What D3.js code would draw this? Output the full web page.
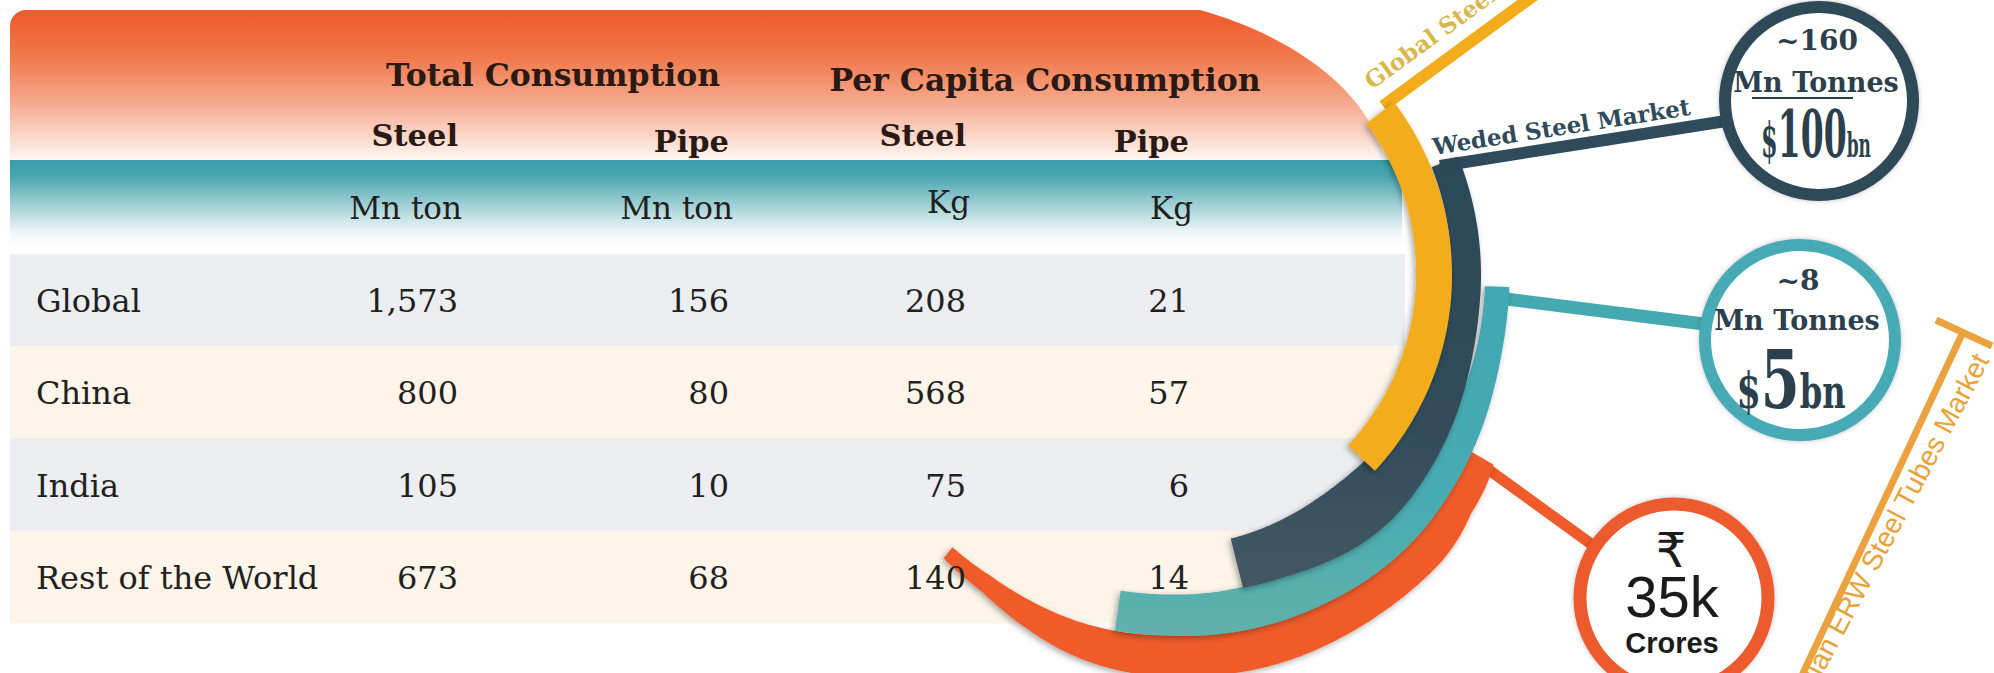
<!DOCTYPE html>
<html>
<head>
<meta charset="utf-8" />
<title>Steel and Pipe Consumption</title>
<script src="https://cdn.jsdelivr.net/npm/d3@7"></script>
<style>
body { margin: 0; background: #fff; }
svg { display: block; }
</style>
</head>
<body>
<div id="chart"></div>
<script>
// table data
const regions = ["Global", "China", "India", "Rest of the World"];
const steelTotal = [1573, 800, 105, 673];
const pipeTotal = [156, 80, 10, 68];
const steelPerCapita = [208, 568, 75, 140];
const pipePerCapita = [21, 57, 6, 14];
const groupHeaders = ["Total Consumption", "Per Capita Consumption"];
const columnHeaders = ["Steel", "Pipe", "Steel", "Pipe"];
const columnUnits = ["Mn ton", "Mn ton", "Kg", "Kg"];

// market callouts
const marketNames = ["Global Steel Market", "Weded Steel Market", "Indian ERW Steel Tubes Market"];
const weldedVolume = ["~160", "Mn Tonnes"];
const weldedValue = ["$", "100", "bn"];
const pipeVolume = ["~8", "Mn Tonnes"];
const pipeValue = ["$", "5", "bn"];
const indiaValue = ["\u20B9", "35k", "Crores"];

const W = 1994, H = 673;
const svg = d3.select("#chart").append("svg")
	.attr("width", W)
	.attr("height", H);
const defs = svg.append("defs");

function gradient(id, stops, y1, y2){
	const g = defs.append("linearGradient").attr("id", id)
		.attr("x1", 0).attr("y1", 0).attr("x2", 0).attr("y2", 1);
	if (y1 !== undefined) {
		g.attr("gradientUnits", "userSpaceOnUse").attr("y1", y1).attr("y2", y2);
	}
	stops.forEach(s => g.append("stop").attr("offset", s[0]).attr("stop-color", s[1]));
}
gradient("hdr", [[0, "#ee5a2c"], [0.3, "#f17648"], [0.62, "#f6aa8f"], [0.85, "#fbd9cc"], [1, "#fff6f2"]]);
gradient("tealband", [[0, "#3a9da8"], [0.18, "#47a5af"], [0.55, "#a6d3d8"], [0.85, "#eef7f8"], [1, "#ffffff"]]);
// these two are used inside the ribbon group, which is shifted down by 275
gradient("tealarc", [[0, "#41a8b3"], [0.6, "#48abb2"], [1, "#60b1aa"]], 5, 365);
gradient("darkarc", [[0, "#2c4959"], [0.6, "#304b5a"], [1, "#435863"]], -115, 315);

const shadow = defs.append("filter").attr("id", "shadow")
	.attr("x", "-20%").attr("y", "-20%").attr("width", "140%").attr("height", "140%");
shadow.append("feDropShadow").attr("dx", -2).attr("dy", 2)
	.attr("stdDeviation", 3).attr("flood-color", "#000").attr("flood-opacity", 0.35);
const glow = defs.append("filter").attr("id", "glow")
	.attr("x", "-20%").attr("y", "-20%").attr("width", "140%").attr("height", "140%");
glow.append("feDropShadow").attr("dx", 0).attr("dy", 0)
	.attr("stdDeviation", 2.5).attr("flood-color", "#000").attr("flood-opacity", 0.25);

// ---- header ----
const hp = d3.path();
hp.moveTo(10, 160);
hp.lineTo(10, 26);
hp.arcTo(10, 10, 26, 10, 16);
hp.lineTo(1200, 10);
hp.bezierCurveTo(1290, 35, 1370, 90, 1384, 160);
hp.closePath();
svg.append("path").attr("d", hp.toString()).attr("fill", "url(#hdr)");

svg.append("rect")
	.attr("x", 10).attr("y", 160).attr("width", 1392).attr("height", 85)
	.attr("fill", "url(#tealband)");

// ---- rows ----
const y = d3.scaleBand().domain(regions).range([254, 623]);
const colX = d3.scaleOrdinal().domain(d3.range(4)).range([458, 729, 966, 1189]);
const groupX = d3.scaleOrdinal().domain(groupHeaders).range([553, 1045]);
const fmt = d3.format(",");
const columns = [steelTotal, pipeTotal, steelPerCapita, pipePerCapita];

svg.append("g").selectAll("rect")
	.data(regions)
	.join("rect")
	.attr("x", 10)
	.attr("y", d => y(d))
	.attr("width", (d, i) => i == 3 ? 1290 : 1395) // last row tucks under the ribbons
	.attr("height", y.bandwidth() + 0.5)
	.attr("fill", (d, i) => i % 2 ? "#fdf5e9" : "#eceef2");

const serif = "'DejaVu Serif', serif";

svg.append("g").selectAll("text")
	.data(groupHeaders)
	.join("text")
	.attr("x", d => groupX(d))
	.attr("y", (d, i) => i ? 91 : 86)
	.attr("text-anchor", "middle")
	.attr("font-family", serif).attr("font-weight", "bold").attr("font-size", 31.5)
	.attr("fill", "#2b1a14")
	.text(d => d);

svg.append("g").selectAll("text")
	.data(columnHeaders)
	.join("text")
	.attr("x", (d, i) => colX(i))
	.attr("y", (d, i) => i % 2 ? 152 : 146)
	.attr("text-anchor", "end")
	.attr("font-family", serif).attr("font-weight", "bold").attr("font-size", 30.5)
	.attr("fill", "#2b1a14")
	.text(d => d);

svg.append("g").selectAll("text")
	.data(columnUnits)
	.join("text")
	.attr("x", (d, i) => colX(i) + 4)
	.attr("y", (d, i) => i == 2 ? 213 : 219)
	.attr("text-anchor", "end")
	.attr("font-family", serif).attr("font-size", 31)
	.attr("fill", "#231f20")
	.text(d => d);

// ---- connectors ----
const deg = Math.PI / 180;
const conn = svg.append("g").attr("fill", "none");
conn.append("line").attr("x1", 1383).attr("y1", 106).attr("x2", 1548).attr("y2", -15)
	.attr("stroke", "#f3ac1b").attr("stroke-width", 12);
conn.append("line").attr("x1", 1440).attr("y1", 166).attr("x2", 1726).attr("y2", 121)
	.attr("stroke", "#2f4b5b").attr("stroke-width", 12);
conn.append("line").attr("x1", 1490).attr("y1", 297).attr("x2", 1704).attr("y2", 324)
	.attr("stroke", "#45a9b1").attr("stroke-width", 13);
conn.append("line").attr("x1", 1478).attr("y1", 462).attr("x2", 1594).attr("y2", 546)
	.attr("stroke", "#ef5b2b").attr("stroke-width", 11);

// ---- arc ribbons (angle in degrees, radii read at those angles) ----
const ribbons = [
	{color: "#ef5b2b", a: [120, 130, 165, 190, 218], ri: [352, 356, 360, 360, 343], ro: [368, 397, 406, 398, 353]},
	{color: "url(#tealarc)", a: [92, 102, 140, 166, 188], ri: [320, 320, 320, 322, 318], ro: [345, 344, 366, 365, 358]},
	{color: "url(#darkarc)", a: [68, 102, 140, 166], ri: [288, 285, 270, 272], ro: [316, 316, 336, 320]},
	{color: "#f3ac1b", a: [53, 133], ri: [252, 250], ro: [287, 287]}
];
const area = d3.areaRadial()
	.angle(d => d.a * deg)
	.innerRadius(d => d.ri)
	.outerRadius(d => d.ro);

// moving average so the read-off radii join without kinks
function smooth(vals, k){
	return vals.map((v, i) => d3.mean(vals.slice(Math.max(0, i - k), Math.min(vals.length, i + k + 1))));
}

const arcs = svg.append("g").attr("transform", "translate(1165,275)");
ribbons.forEach(function(b){
	const rin = d3.scaleLinear().domain(b.a).range(b.ri);
	const rout = d3.scaleLinear().domain(b.a).range(b.ro);
	const a0 = b.a[0], a1 = b.a[b.a.length - 1];
	const angles = d3.range(a0, a1 + 0.001, 0.5);
	const ri = smooth(angles.map(rin), 16);
	const ro = smooth(angles.map(rout), 16);
	const pts = angles.map((a, i) => ({a: a, ri: ri[i], ro: ro[i]}));
	arcs.append("path")
		.attr("d", area(pts))
		.attr("fill", b.color)
		.attr("filter", "url(#shadow)");
});

// ---- table text (drawn over the ribbons) ----
const rowText = svg.append("g")
	.attr("font-family", serif).attr("font-size", 32)
	.attr("fill", "#231f20");

rowText.selectAll("text.label")
	.data(regions)
	.join("text")
	.attr("class", "label")
	.attr("x", 36)
	.attr("y", d => y(d) + y.bandwidth() / 2 + 12)
	.text(d => d);

columns.forEach(function(col, c){
	rowText.selectAll("text.c" + c)
		.data(col)
		.join("text")
		.attr("class", "c" + c)
		.attr("x", colX(c))
		.attr("y", (d, i) => y(regions[i]) + y.bandwidth() / 2 + 12)
		.attr("text-anchor", "end")
		.text(d => fmt(d));
});

// ---- labels along connectors ----
svg.append("text")
	.attr("transform", "translate(1372,90) rotate(-36)")
	.attr("font-family", serif).attr("font-weight", "bold").attr("font-size", 23)
	.attr("fill", "#d8b84c")
	.text(marketNames[0]);

svg.append("text")
	.attr("transform", "translate(1434,155) rotate(-8.9)")
	.attr("font-family", serif).attr("font-weight", "bold").attr("font-size", 23)
	.attr("fill", "#2f4b5b")
	.text(marketNames[1]);

// ERW line with end cap
svg.append("line").attr("x1", 1798).attr("y1", 684).attr("x2", 1963).attr("y2", 332)
	.attr("stroke", "#eba23f").attr("stroke-width", 7);
svg.append("line").attr("x1", 1936).attr("y1", 320).attr("x2", 1992).attr("y2", 346)
	.attr("stroke", "#eba23f").attr("stroke-width", 7);
svg.append("text")
	.attr("transform", "translate(1990,360) rotate(-62)")
	.attr("text-anchor", "end")
	.attr("font-family", "'Liberation Sans', Arial, sans-serif").attr("font-size", 28)
	.attr("fill", "#e8a23a")
	.text(marketNames[2]);

// ---- circles ----
const circles = [
	{cx: 1819, cy: 101, r: 94, color: "#2f4858", w: 12},
	{cx: 1800, cy: 340, r: 95, color: "#47aab4", w: 12},
	{cx: 1674, cy: 598, r: 94, color: "#ec5a2e", w: 13}
];
svg.append("g").selectAll("circle")
	.data(circles)
	.join("circle")
	.attr("cx", d => d.cx).attr("cy", d => d.cy).attr("r", d => d.r)
	.attr("fill", "#fff")
	.attr("stroke", d => d.color)
	.attr("stroke-width", d => d.w)
	.attr("filter", "url(#glow)");

const ink = "#2c3f4c";
// welded steel market circle
svg.append("text").attr("x", 1817).attr("y", 50).attr("text-anchor", "middle")
	.attr("font-family", serif).attr("font-weight", "bold").attr("font-size", 28)
	.attr("fill", ink).text(weldedVolume[0]);
svg.append("text").attr("x", 1816).attr("y", 92).attr("text-anchor", "middle")
	.attr("font-family", serif).attr("font-weight", "bold").attr("font-size", 27)
	.attr("fill", ink).text(weldedVolume[1]);
svg.append("line").attr("x1", 1752).attr("y1", 98).attr("x2", 1853).attr("y2", 98)
	.attr("stroke", ink).attr("stroke-width", 2);
const wv = svg.append("text")
	.attr("transform", "translate(1816,157) scale(0.5,1)")
	.attr("text-anchor", "middle")
	.attr("font-family", serif).attr("font-weight", "bold")
	.attr("fill", ink);
wv.append("tspan").attr("font-size", 48).text(weldedValue[0]);
wv.append("tspan").attr("font-size", 66).text(weldedValue[1]);
wv.append("tspan").attr("font-size", 34).text(weldedValue[2]);

// ERW pipe market circle
svg.append("text").attr("x", 1798).attr("y", 290).attr("text-anchor", "middle")
	.attr("font-family", serif).attr("font-weight", "bold").attr("font-size", 28)
	.attr("fill", ink).text(pipeVolume[0]);
svg.append("text").attr("x", 1797).attr("y", 330).attr("text-anchor", "middle")
	.attr("font-family", serif).attr("font-weight", "bold").attr("font-size", 27)
	.attr("fill", ink).text(pipeVolume[1]);
const pv = svg.append("text")
	.attr("transform", "translate(1791,408) scale(0.7,1)")
	.attr("text-anchor", "middle")
	.attr("font-family", serif).attr("font-weight", "bold")
	.attr("fill", ink);
pv.append("tspan").attr("font-size", 50).text(pipeValue[0]);
pv.append("tspan").attr("font-size", 80).text(pipeValue[1]);
pv.append("tspan").attr("font-size", 46).text(pipeValue[2]);

// indian market circle
svg.append("text").attr("x", 1671).attr("y", 567).attr("text-anchor", "middle")
	.attr("font-family", "'DejaVu Sans', 'Noto Sans', sans-serif").attr("font-size", 48)
	.attr("fill", "#1b1b1b").text(indiaValue[0]);
svg.append("text").attr("x", 1672).attr("y", 617).attr("text-anchor", "middle")
	.attr("font-family", "'Liberation Sans', Arial, sans-serif").attr("font-size", 58)
	.attr("fill", "#1b1b1b").text(indiaValue[1]);
svg.append("text").attr("x", 1672).attr("y", 653).attr("text-anchor", "middle")
	.attr("font-family", "'Liberation Sans', Arial, sans-serif").attr("font-weight", "bold")
	.attr("font-size", 29)
	.attr("fill", "#1b1b1b").text(indiaValue[2]);
</script>
</body>
</html>
